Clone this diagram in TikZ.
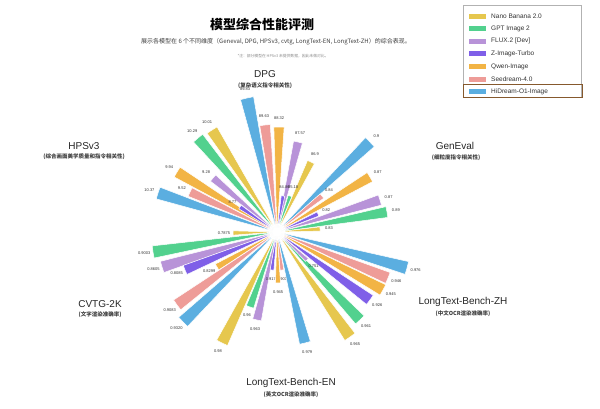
\documentclass[tikz,border=0pt]{standalone}
\usepackage{fontspec}
\setmainfont{Liberation Sans}
\newfontfamily\cjk{Noto Sans CJK SC}
\definecolor{cY}{HTML}{E6C74E}
\definecolor{cG}{HTML}{52D18E}
\definecolor{cF}{HTML}{B893D8}
\definecolor{cZ}{HTML}{7F5FE8}
\definecolor{cO}{HTML}{F2B445}
\definecolor{cP}{HTML}{EE9C98}
\definecolor{cB}{HTML}{5BAEE0}
\tikzset{
  vallbl/.style={font=\fontsize{4}{4.5}\selectfont, text=black!80, inner sep=0pt},
  cattitle/.style={font=\fontsize{10}{11}\selectfont, text=black!85},
  catsub/.style={font=\cjk\bfseries\fontsize{5.5}{6}\selectfont, text=black!75},
  legtext/.style={font=\fontsize{6.5}{7}\selectfont, text=black!80, anchor=west, inner sep=0pt},
}
\begin{document}
\begin{tikzpicture}[x=1pt,y=-1pt]
\useasboundingbox (0,0) rectangle (600,409);
\fill[white] (0,0) rectangle (600,409);
\coordinate (C) at (277,232);
\foreach \tx/\ty/\cl/\lb in {
 247/98/cB/89.83, 265/125/cP/89.63, 279/127/cO/88.32, 298/142/cF/87.57, 311/162/cY/86.9,
 283/196/cZ/84.86, 290/196/cG/85.18,
 158/193/cB/10.37, 190/192/cP/9.52, 177/172/cO/9.94, 213/178/cF/9.28, 240/207/cZ/8.77,
 198/138/cG/10.29, 212/130/cY/10.01,
 233/233/cY/0.7875, 153/252/cG/0.9003, 162/267/cF/0.8605, 185/270/cZ/0.8085, 217/267/cO/0.8299,
 177/305/cP/0.9083, 183/322/cB/0.9320,
 222/343/cY/0.98, 250/307/cG/0.96, 257/320/cF/0.963, 272/270/cZ/0.917, 282/270/cP/0.9036,
 278/283/cO/0.945, 305/343/cB/0.979,
 407/268/cB/0.976, 388/278/cP/0.946, 383/290/cO/0.945, 370/300/cZ/0.926, 360/320/cG/0.961,
 350/337/cY/0.965, 307/260/cF/0.751,
 370/142/cB/0.9, 370/177/cO/0.87, 380/200/cF/0.87, 387/212/cG/0.89, 322/196/cP/0.84,
 318/214/cZ/0.82, 320/229/cY/0.83}
{
 \pgfmathsetmacro\ang{atan2(\ty-232,\tx-277)}
 \pgfmathsetmacro\rr{veclen(\tx-277,\ty-232)}
 \pgfmathsetmacro\aa{\ang-2.8}
 \pgfmathsetmacro\ab{\ang+2.8}
 \pgfmathsetmacro\rl{\rr+9}
 \fill[\cl, draw=white, line width=0.5pt] ([shift={(C)}]\aa:5) -- ([shift={(C)}]\aa:\rr) -- ([shift={(C)}]\ang:\rr)
   -- ([shift={(C)}]\ab:\rr) -- ([shift={(C)}]\ab:5) -- cycle;
 \node[vallbl] at ([shift={(C)}]\ang:\rl) {\lb};
}
\fill[white, opacity=0.85] (C) circle (8);
\node[font=\cjk\bfseries\fontsize{13}{14}\selectfont] (title) at (262,25) {模型综合性能评测};
\node[font=\cjk\fontsize{6}{7}\selectfont, text=black!75] (sub) at (276,42) {展示各模型在 6 个不同维度（Geneval, DPG, HPSv3, cvtg, LongText-EN, LongText-ZH）的综合表现。};
\node[font=\cjk\fontsize{3.8}{4}\selectfont, text=black!45] (note) at (283,56) {*注：部分模型在 HPSv3 未提供数据，因此未做对比。};
\node[cattitle] (dpg) at (265,74) {DPG};
\node[catsub] (dpgs) at (265,86) {(复杂语义指令相关性)};
\node[cattitle] (hps) at (84,146) {HPSv3};
\node[catsub] (hpss) at (84,157) {(综合画面美学质量和指令相关性)};
\node[cattitle] (gen) at (455,146) {GenEval};
\node[catsub] (gens) at (456,158) {(细粒度指令相关性)};
\node[cattitle] (cvtg) at (100,304) {CVTG-2K};
\node[catsub] (cvtgs) at (100,315) {(文字渲染准确率)};
\node[cattitle] (zh) at (463,302) {LongText-Bench-ZH};
\node[catsub] (zhs) at (463,314) {(中文OCR渲染准确率)};
\node[cattitle] (en) at (291,383) {LongText-Bench-EN};
\node[catsub] (ens) at (291,395) {(英文OCR渲染准确率)};
\draw[black!30, line width=0.6pt] (463,5) rectangle (581,97);
\foreach \cl/\t [count=\i] in {cY/Nano Banana 2.0, cG/GPT Image 2, cF/FLUX.2 [Dev], cZ/Z-Image-Turbo, cO/Qwen-Image, cP/Seedream-4.0, cB/HiDream-O1-Image}{
 \fill[\cl] (469,{1+12.6*\i}) rectangle (486,{6+12.6*\i});
 \node[legtext] at (491,{3.5+12.6*\i}) {\t};
}
\draw[brown!70!black, line width=0.7pt] (463,84) rectangle (582,97);
\end{tikzpicture}
\end{document}
